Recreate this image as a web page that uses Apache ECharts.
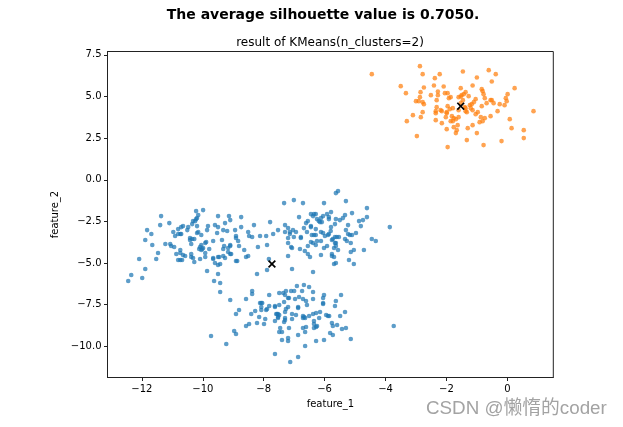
<!DOCTYPE html>
<html>
<head>
<meta charset="utf-8">
<script src="https://cdn.jsdelivr.net/npm/echarts@6/dist/echarts.min.js"></script>
<style>
html, body { margin: 0; padding: 0; background: #fff; }
#chart { width: 623px; height: 427px; }
</style>
</head>
<body>
<div id="chart"></div>
<script>
const xTicks = [-12, -10, -8, -6, -4, -2, 0];
const yTicks = [-10, -7.5, -5, -2.5, 0, 2.5, 5, 7.5];
const centers = [[-1.53, 4.42], [-7.73, -5.06]];

const orangePoints = [
  [-4.45,6.34],[-2.87,6.82],[-2.78,6.34],[-2.22,6.34],[-2.38,6.10],[-1.46,6.50],[-0.61,6.58],[-0.38,6.34],[-1.00,6.14],[-0.51,5.90],
  [-1.14,5.66],[-3.50,5.62],[-2.74,5.54],[-2.41,5.66],[-2.09,5.60],[0.24,5.50],[-3.33,5.20],[-2.85,5.26],[-2.87,4.96],[-3.00,4.72],
  [-2.91,4.72],[-2.78,4.66],[-2.74,4.54],[-2.51,5.08],[-2.28,5.30],[-2.28,5.08],[-2.32,4.78],[-2.05,5.20],[-1.96,5.20],[-1.86,4.96],
  [-1.92,4.90],[-1.53,5.50],[-1.37,5.26],[-1.43,5.14],[-1.50,5.08],[-1.60,4.96],[-1.53,5.00],[-1.46,4.78],[-1.27,5.02],[-0.84,5.44],
  [-0.81,5.32],[-0.78,5.14],[-0.74,4.90],[-1.04,4.84],[-1.10,4.66],[-1.17,4.54],[-1.23,4.48],[0.01,5.14],[-0.05,4.90],[-0.02,4.72],
  [-0.09,4.48],[-0.25,4.54],[-0.45,4.60],[-0.51,4.78],[-0.55,4.78],[-0.68,4.60],[-0.84,4.42],[0.86,4.12],[-0.32,4.12],[-0.55,3.82],
  [0.08,3.64],[0.14,3.10],[0.54,2.98],[0.54,2.50],[-0.19,2.32],[-0.78,2.08],[-1.33,2.38],[-1.00,2.80],[-1.96,1.96],[-2.97,2.62],
  [-3.30,3.52],[-3.10,3.88],[-2.84,3.76],[-2.78,4.06],[-2.35,3.58],[-2.15,3.40],[-1.99,3.04],[-1.76,3.16],[-1.66,2.98],[-1.69,2.80],
  [-1.63,3.28],[-1.30,3.10],[-1.14,3.28],[-0.91,3.46],[-0.81,3.52],[-0.74,3.70],[-0.87,3.76],[-1.04,3.94],[-0.97,4.06],[-1.14,4.18],
  [-1.20,4.30],[-1.37,4.12],[-1.33,4.06],[-1.53,4.60],[-1.60,4.18],[-1.79,4.30],[-1.89,4.24],[-1.96,4.42],[-1.99,4.06],[-1.99,4.00],
  [-2.15,4.12],[-2.19,4.18],[-2.32,4.36],[-2.35,4.12],[-2.35,4.00],[-2.02,3.76],[-1.82,3.82],[-1.76,3.70],[-1.79,3.52],[-1.86,3.52],
  [-1.69,3.64],[-1.60,3.76],[-1.40,4.36],[-1.37,4.30]
];

const blueLeft = [
  [-12.45,-6.08],[-12.35,-5.72],[-11.99,-5.90],[-11.89,-5.36],[-12.09,-4.76],[-11.53,-4.76],[-11.47,-4.40],[-11.66,-3.92],[-11.89,-3.62],[-11.69,-3.26],
  [-11.83,-3.02],[-11.40,-2.72],[-11.37,-2.18],[-11.10,-2.60],[-10.97,-3.14],[-10.91,-3.38],[-11.23,-3.86],[-11.07,-3.86],[-11.04,-3.98],[-10.94,-4.04],
  [-10.81,-2.96],[-10.71,-2.84],[-10.65,-2.78],[-10.74,-3.26],[-10.81,-3.26],[-10.71,-3.26],[-10.51,-3.02],[-10.48,-2.84],[-10.35,-2.66],[-10.32,-2.48],
  [-10.25,-2.48],[-10.22,-2.36],[-10.19,-2.30],[-10.15,-2.12],[-10.22,-1.88],[-9.99,-1.82],[-10.19,-2.78],[-10.15,-3.14],[-10.19,-3.20],[-10.05,-3.32],
  [-10.42,-3.50],[-10.35,-3.56],[-10.28,-3.56],[-10.42,-3.62],[-10.38,-3.86],[-9.86,-3.02],[-9.83,-2.78],[-9.60,-2.72],[-9.50,-2.84],[-9.53,-3.20],
  [-9.50,-2.18],[-9.14,-2.18],[-9.10,-2.42],[-9.27,-2.60],[-9.33,-3.02],[-9.20,-3.08],[-8.94,-3.02],[-8.91,-3.38],[-8.91,-3.50],[-8.84,-3.68],
  [-8.74,-2.84],[-8.74,-2.24],[-8.51,-3.14],[-8.48,-3.38],[-8.81,-3.98],[-8.64,-4.22],[-8.51,-4.58],[-8.58,-4.64],[-8.87,-4.88],[-8.91,-4.88],
  [-9.10,-3.98],[-9.10,-3.92],[-9.17,-4.10],[-9.30,-3.98],[-9.33,-4.16],[-9.17,-4.34],[-9.10,-4.46],[-9.07,-4.46],[-9.33,-4.58],[-9.27,-4.70],
  [-9.50,-4.64],[-9.46,-4.64],[-9.66,-4.70],[-9.66,-4.76],[-9.92,-4.64],[-9.92,-4.40],[-9.79,-4.16],[-9.92,-3.80],[-9.89,-3.74],[-9.66,-3.68],
  [-9.37,-3.62],[-10.05,-3.92],[-10.09,-4.04],[-10.12,-4.16],[-10.02,-4.16],[-10.05,-4.22],[-9.99,-4.10],[-10.87,-4.46],[-10.74,-4.22],[-10.74,-4.40],
  [-10.65,-4.52],[-10.58,-4.58],[-10.81,-4.82],[-10.74,-4.82],[-10.68,-4.82],[-10.38,-4.46],[-10.38,-4.64],[-10.32,-4.70],[-10.28,-4.94],[-10.09,-4.76],
  [-9.60,-5.00],[-9.50,-5.12],[-9.43,-5.06],[-9.86,-5.48],[-9.50,-5.66]
];

const blueRight = [
  [-8.32,-2.72],[-8.38,-3.44],[-8.12,-3.38],[-7.92,-3.38],[-8.19,-4.04],[-8.22,-5.66],[-7.89,-3.92],[-7.83,-4.76],[-7.89,-5.42],[-7.79,-2.54],
  [-7.69,-3.26],[-7.53,-3.02],[-7.30,-2.72],[-7.30,-3.14],[-7.20,-2.90],[-7.14,-3.14],[-7.14,-3.26],[-7.04,-3.02],[-6.94,-3.14],[-7.01,-3.44],
  [-7.20,-3.50],[-7.20,-3.80],[-7.10,-4.04],[-7.07,-4.10],[-7.20,-4.58],[-7.07,-5.36],[-6.81,-4.16],[-6.78,-3.44],[-6.78,-3.50],[-6.68,-2.90],
  [-6.65,-4.28],[-6.55,-4.46],[-6.48,-4.64],[-6.55,-3.98],[-6.45,-3.74],[-6.38,-3.80],[-6.29,-3.92],[-6.25,-3.68],[-6.12,-3.68],[-6.12,-4.52],
  [-6.02,-4.10],[-5.92,-3.98],[-6.38,-5.54],[-7.33,-1.40],[-7.01,-1.22],[-6.71,-1.40],[-6.84,-2.24],[-6.61,-2.60],[-6.55,-2.48],[-6.45,-2.78],
  [-6.45,-2.84],[-6.29,-2.96],[-6.42,-3.32],[-6.35,-3.32],[-6.29,-3.32],[-6.58,-3.14],[-6.12,-3.14],[-6.05,-3.20],[-5.99,-3.38],[-5.86,-3.26],
  [-5.89,-3.32],[-5.80,-3.08],[-5.79,-2.84],[-6.02,-1.40],[-5.63,-0.80],[-5.56,-0.68],[-5.30,-1.28],[-4.61,-1.70],[-4.61,-2.24],[-4.74,-2.42],
  [-4.87,-2.48],[-4.81,-2.78],[-5.10,-2.00],[-5.33,-2.12],[-5.40,-2.30],[-5.50,-2.42],[-5.63,-2.36],[-5.66,-2.66],[-5.79,-1.94],[-5.92,-2.06],
  [-5.86,-2.24],[-5.86,-2.36],[-6.05,-2.18],[-6.12,-2.30],[-6.19,-2.48],[-6.25,-2.36],[-6.35,-2.06],[-6.45,-2.06],[-6.38,-2.18],[-6.29,-2.06],
  [-6.09,-2.54],[-6.15,-2.54],[-5.23,-2.72],[-5.30,-3.02],[-5.23,-3.26],[-5.17,-3.32],[-5.10,-3.32],[-4.97,-3.20],[-5.33,-3.56],[-5.27,-3.68],
  [-5.14,-3.80],[-5.73,-3.56],[-5.76,-3.62],[-5.66,-3.44],[-5.60,-3.44],[-5.53,-3.44],[-5.66,-3.80],[-5.63,-3.80],[-5.63,-3.98],[-5.69,-4.10],
  [-5.56,-4.22],[-5.76,-4.46],[-5.76,-4.58],[-5.69,-4.64],[-5.69,-5.06],[-5.63,-5.00],[-5.20,-4.82],[-5.04,-5.06],[-5.04,-4.22],[-5.14,-4.34],
  [-4.71,-4.22],[-4.45,-3.56],[-4.32,-3.68],[-3.86,-2.84]
];

const blueBottom = [
  [-9.63,-6.08],[-9.43,-6.20],[-9.43,-6.74],[-9.10,-7.22],[-8.58,-7.16],[-8.38,-6.68],[-8.38,-6.86],[-7.82,-6.92],[-7.49,-6.80],[-7.36,-6.80],
  [-7.27,-6.68],[-7.30,-6.92],[-7.10,-6.68],[-7.00,-6.68],[-6.91,-6.38],[-6.68,-6.32],[-6.51,-6.44],[-6.74,-6.68],[-6.38,-6.74],[-7.20,-7.10],
  [-7.17,-7.10],[-6.97,-7.16],[-6.84,-7.04],[-6.71,-7.16],[-6.61,-7.28],[-6.58,-7.52],[-6.38,-7.16],[-6.02,-6.92],[-6.05,-7.10],[-6.05,-7.40],
  [-6.05,-7.46],[-5.46,-6.92],[-5.63,-7.28],[-5.66,-7.58],[-5.33,-7.94],[-5.49,-8.18],[-6.15,-7.94],[-6.28,-8.00],[-6.38,-8.06],[-6.51,-8.18],
  [-5.95,-8.12],[-5.89,-8.18],[-5.85,-8.18],[-6.18,-8.30],[-5.76,-8.60],[-5.73,-8.78],[-5.59,-8.72],[-5.43,-8.96],[-5.30,-8.90],[-6.35,-8.48],
  [-6.35,-8.66],[-6.25,-8.78],[-6.28,-8.84],[-6.35,-8.90],[-6.61,-8.84],[-6.71,-8.90],[-6.64,-9.14],[-6.87,-9.32],[-7.17,-8.90],[-7.46,-8.90],
  [-7.49,-9.14],[-7.40,-9.14],[-7.40,-9.62],[-7.20,-9.50],[-7.20,-9.68],[-6.64,-9.98],[-6.28,-9.68],[-6.02,-9.62],[-5.82,-9.20],[-5.73,-9.32],
  [-5.14,-9.56],[-6.87,-10.64],[-7.13,-10.94],[-7.63,-10.46],[-9.23,-9.86],[-9.73,-9.38],[-8.97,-9.08],[-8.91,-9.26],[-8.58,-8.78],[-8.48,-8.66],
  [-8.22,-8.60],[-7.99,-8.66],[-7.95,-8.36],[-8.15,-8.24],[-8.41,-8.06],[-8.28,-7.88],[-8.91,-8.06],[-8.81,-7.82],[-8.12,-7.40],[-8.08,-7.40],
  [-8.05,-7.40],[-8.08,-7.64],[-8.08,-7.82],[-7.82,-7.58],[-7.89,-7.76],[-7.92,-7.82],[-7.63,-7.58],[-7.63,-7.64],[-7.49,-7.52],[-7.33,-7.34],
  [-7.20,-7.64],[-7.27,-7.76],[-7.30,-7.94],[-6.87,-7.64],[-6.87,-7.70],[-7.07,-8.06],[-6.94,-8.12],[-7.07,-8.36],[-7.30,-8.30],[-7.30,-8.42],
  [-7.33,-8.54],[-7.56,-8.06],[-7.53,-8.06],[-7.49,-8.12],[-7.59,-8.06],[-7.53,-8.24],[-7.53,-8.30],[-7.63,-8.48],[-6.71,-8.18],[-6.67,-8.24],
  [-6.71,-8.30],[-6.64,-8.30],[-3.73,-8.78]
];

const fontFamily = '"DejaVu Sans", sans-serif';
const fmtMinus = v => String(v).replace('-', '\u2212');
const fmtY = v => v.toFixed(1).replace('-', '\u2212');

const axisCommon = {
  type: 'value',
  nameLocation: 'middle',
  nameTextStyle: { color: '#000', fontSize: 10, fontFamily },
  axisLine: { show: true, onZero: false, lineStyle: { color: '#222', width: 1 } },
  splitLine: { show: false }
};

const myChart = echarts.init(document.getElementById('chart'));
myChart.setOption({
  animation: false,
  backgroundColor: '#fff',
  title: [
    {
      text: 'The average silhouette value is 0.7050.',
      left: 318, top: 3, textAlign: 'center',
      textStyle: { color: '#000', fontSize: 14, fontWeight: 'bold', fontFamily }
    },
    {
      text: 'result of KMeans(n_clusters=2)',
      left: 325, top: 32, textAlign: 'center',
      textStyle: { color: '#000', fontSize: 12, fontWeight: 'normal', fontFamily }
    }
  ],
  grid: { left: 107.5, right: 69.7, top: 51.5, bottom: 49.5, show: true, borderColor: '#222', borderWidth: 1 },
  xAxis: Object.assign({}, axisCommon, {
    min: -13.13, max: 1.51,
    name: 'feature_1', nameGap: 21,
    axisTick: { customValues: xTicks, length: 3.5, lineStyle: { color: '#222' } },
    axisLabel: { customValues: xTicks, color: '#000', fontSize: 10, fontFamily, margin: 7, formatter: fmtMinus }
  }),
  yAxis: Object.assign({}, axisCommon, {
    min: -11.87, max: 7.7,
    name: 'feature_2', nameGap: 42,
    axisTick: { customValues: yTicks, length: 3.5, lineStyle: { color: '#222' } },
    axisLabel: { customValues: yTicks, color: '#000', fontSize: 10, fontFamily, margin: 6, padding: [3, 0, 0, 0], formatter: fmtY }
  }),
  series: [
    {
      type: 'scatter',
      data: blueLeft.concat(blueRight, blueBottom),
      symbolSize: 4.6,
      itemStyle: { color: '#1f77b4', opacity: 0.72 }
    },
    {
      type: 'scatter',
      data: orangePoints,
      symbolSize: 4.6,
      itemStyle: { color: '#ff7f0e', opacity: 0.72 }
    },
    {
      type: 'scatter',
      data: centers,
      symbol: 'path://M1.5 0 L5 3.5 L8.5 0 L10 1.5 L6.5 5 L10 8.5 L8.5 10 L5 6.5 L1.5 10 L0 8.5 L3.5 5 L0 1.5 Z',
      symbolSize: 8,
      z: 5,
      itemStyle: { color: '#000', opacity: 1 }
    }
  ],
  graphic: [
    {
      type: 'text',
      left: 426, top: 399,
      z: 100,
      style: {
        text: 'CSDN @懒惰的coder',
        fill: '#a3a3a3',
        font: '18.8px "Liberation Sans", "Noto Sans CJK SC", sans-serif'
      }
    }
  ]
});
</script>
</body>
</html>
